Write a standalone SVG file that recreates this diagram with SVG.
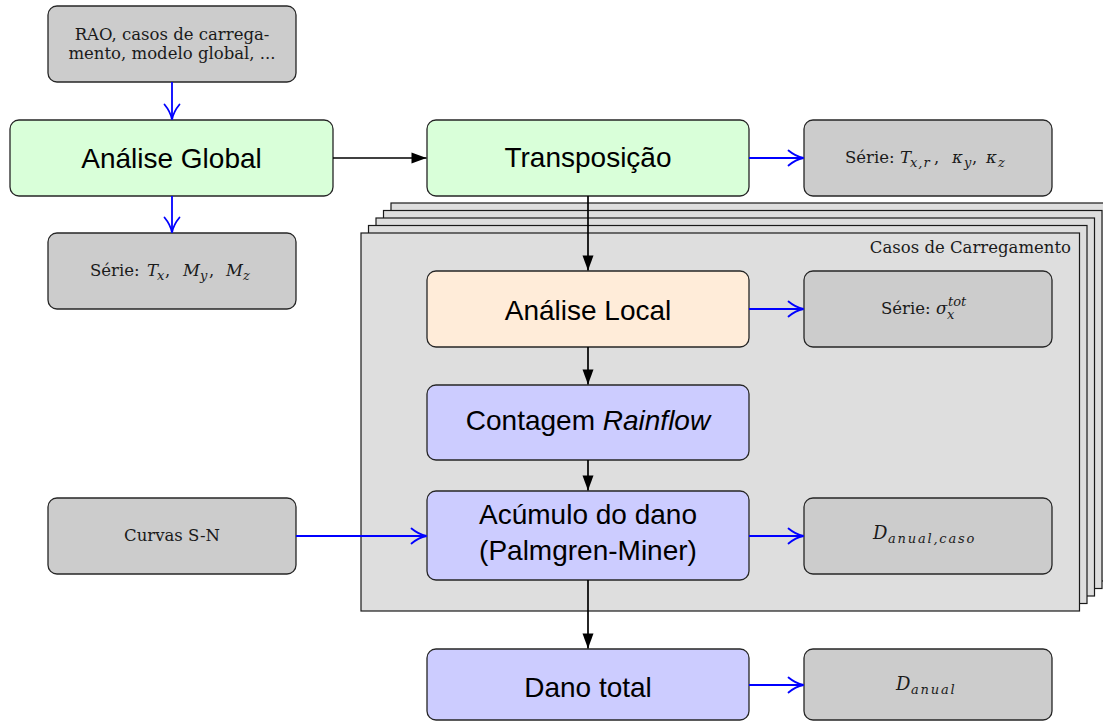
<svg xmlns="http://www.w3.org/2000/svg" width="1103" height="724" viewBox="0 0 1103 724">
<style>
.node{stroke:#262626;stroke-width:1.3}
.grey{fill:#cccccc}
.green{fill:#d9ffd9}
.orange{fill:#ffecd9}
.blue{fill:#ccccff}
.layer{fill:#dedede;stroke:#1a1a1a;stroke-width:1.2}
.big{font-family:"Liberation Sans",Arial,sans-serif;font-size:28px;fill:#000;text-anchor:middle}
.sm{font-family:"DejaVu Serif","Liberation Serif",serif;font-size:16.5px;fill:#1a1a1a}
.mi{font-style:italic}
.sub{font-size:13px;font-style:italic}
.bl{stroke:#0000ff;stroke-width:1.8;fill:none}
.bk{stroke:#000;stroke-width:1.7;fill:none}
</style>
<defs>
<marker id="ob" markerUnits="userSpaceOnUse" viewBox="-17 -9 19 18" refX="0" refY="0" markerWidth="19" markerHeight="18" orient="auto" overflow="visible">
<path d="M-15,-7.5 C-9,-2.5 -4,-0.8 0,0 C-4,0.8 -9,2.5 -15,7.5" fill="none" stroke="#0000ff" stroke-width="1.8" stroke-linecap="round"/>
</marker>
<marker id="tb" markerUnits="userSpaceOnUse" viewBox="-16 -7 17 14" refX="0" refY="0" markerWidth="17" markerHeight="14" orient="auto" overflow="visible">
<path d="M-15,-5.5 L0,0 L-15,5.5 Z" fill="#000"/>
</marker>
</defs>
<rect width="1103" height="724" fill="#fff"/>

<g id="casos-de-carregamento">
<rect class="layer" x="391" y="203" width="718.5" height="378"/>
<rect class="layer" x="383.5" y="210.5" width="718.5" height="378"/>
<rect class="layer" x="376" y="218" width="718.5" height="378"/>
<rect class="layer" x="368.5" y="225.5" width="718.5" height="378"/>
<rect class="layer" x="361" y="233" width="718.5" height="378" stroke="#000"/>
<text class="sm" x="1071" y="253" text-anchor="end">Casos de Carregamento</text>
</g>

<g id="entrada">
<rect class="node grey" x="48" y="6" width="248" height="76" rx="9"/>
<text class="sm" x="172" y="39.5" text-anchor="middle">RAO, casos de carrega-</text>
<text class="sm" x="172" y="58.5" text-anchor="middle">mento, modelo global, ...</text>
</g>

<g id="analise-global">
<rect class="node green" x="10" y="120" width="323" height="76" rx="9"/>
<text class="big" x="171.5" y="168">Análise Global</text>
</g>

<g id="serie-global">
<rect class="node grey" x="48" y="233" width="248" height="76" rx="9"/>
<text class="sm" y="276"><tspan x="90">Série:</tspan><tspan class="mi" x="147">T</tspan><tspan class="sub" x="157" dy="3.5">x</tspan><tspan x="165" dy="-3.5">,</tspan><tspan class="mi" x="183">M</tspan><tspan class="sub" x="200" dy="3.5">y</tspan><tspan x="209" dy="-3.5">,</tspan><tspan class="mi" x="226">M</tspan><tspan class="sub" x="243" dy="3.5">z</tspan></text>
</g>

<g id="transposicao">
<rect class="node green" x="427" y="120" width="322" height="76" rx="9"/>
<text class="big" x="588" y="167">Transposição</text>
</g>

<g id="serie-transp">
<rect class="node grey" x="804" y="120" width="248" height="76" rx="9"/>
<text class="sm" y="163"><tspan x="845">Série:</tspan><tspan class="mi" x="900">T</tspan><tspan class="sub" x="910" dy="3.5" letter-spacing="1">x,r</tspan><tspan x="934" dy="-3.5">,</tspan><tspan class="mi" x="952">κ</tspan><tspan class="sub" x="964" dy="3.5">y</tspan><tspan x="972" dy="-3.5">,</tspan><tspan class="mi" x="986">κ</tspan><tspan class="sub" x="998" dy="3.5">z</tspan></text>
</g>

<g id="analise-local">
<rect class="node orange" x="427" y="271" width="322" height="76" rx="9"/>
<text class="big" x="588" y="320">Análise Local</text>
</g>

<g id="serie-local">
<rect class="node grey" x="804" y="271" width="248" height="76" rx="9"/>
<text class="sm" y="314"><tspan x="881">Série:</tspan><tspan class="mi" x="936">σ</tspan><tspan class="sub" x="947" dy="5">x</tspan><tspan class="sub" x="948" dy="-13">tot</tspan></text>
</g>

<g id="rainflow">
<rect class="node blue" x="427" y="385" width="322" height="75" rx="9"/>
<text class="big" x="588" y="430">Contagem <tspan font-style="italic">Rainflow</tspan></text>
</g>

<g id="acumulo">
<rect class="node blue" x="427" y="491" width="322" height="89" rx="9"/>
<text class="big" x="588" y="523.5">Acúmulo do dano</text>
<text class="big" x="588" y="560">(Palmgren-Miner)</text>
</g>

<g id="curvas-sn">
<rect class="node grey" x="48" y="498" width="248" height="76" rx="9"/>
<text class="sm" x="172" y="541" text-anchor="middle">Curvas S-N</text>
</g>

<g id="dano-caso">
<rect class="node grey" x="804" y="498" width="248" height="76" rx="9"/>
<text class="sm" y="539"><tspan class="mi" x="873" font-size="18">D</tspan><tspan class="sub" x="888" dy="4" font-size="14" letter-spacing="1.8">anual,caso</tspan></text>
</g>

<g id="dano-total">
<rect class="node blue" x="427" y="649" width="322" height="71" rx="9"/>
<text class="big" x="588" y="697">Dano total</text>
</g>

<g id="dano-anual">
<rect class="node grey" x="804" y="649" width="248" height="71" rx="9"/>
<text class="sm" y="690"><tspan class="mi" x="896" font-size="18">D</tspan><tspan class="sub" x="911" dy="4" font-size="14" letter-spacing="1.8">anual</tspan></text>
</g>

<g id="connectors">
<line class="bl" x1="172" y1="82" x2="172" y2="119.5" marker-end="url(#ob)"/>
<line class="bl" x1="172" y1="196" x2="172" y2="232.5" marker-end="url(#ob)"/>
<line class="bl" x1="749" y1="158" x2="803.5" y2="158" marker-end="url(#ob)"/>
<line class="bl" x1="749" y1="309" x2="803.5" y2="309" marker-end="url(#ob)"/>
<line class="bl" x1="296" y1="536" x2="426.5" y2="536" marker-end="url(#ob)"/>
<line class="bl" x1="749" y1="536" x2="803.5" y2="536" marker-end="url(#ob)"/>
<line class="bl" x1="749" y1="685" x2="803.5" y2="685" marker-end="url(#ob)"/>
<line class="bk" x1="333" y1="158" x2="426.5" y2="158" marker-end="url(#tb)"/>
<line class="bk" x1="588" y1="196" x2="588" y2="270.5" marker-end="url(#tb)"/>
<line class="bk" x1="588" y1="347" x2="588" y2="384.5" marker-end="url(#tb)"/>
<line class="bk" x1="588" y1="460" x2="588" y2="490.5" marker-end="url(#tb)"/>
<line class="bk" x1="588" y1="580" x2="588" y2="648.5" marker-end="url(#tb)"/>
</g>
</svg>
